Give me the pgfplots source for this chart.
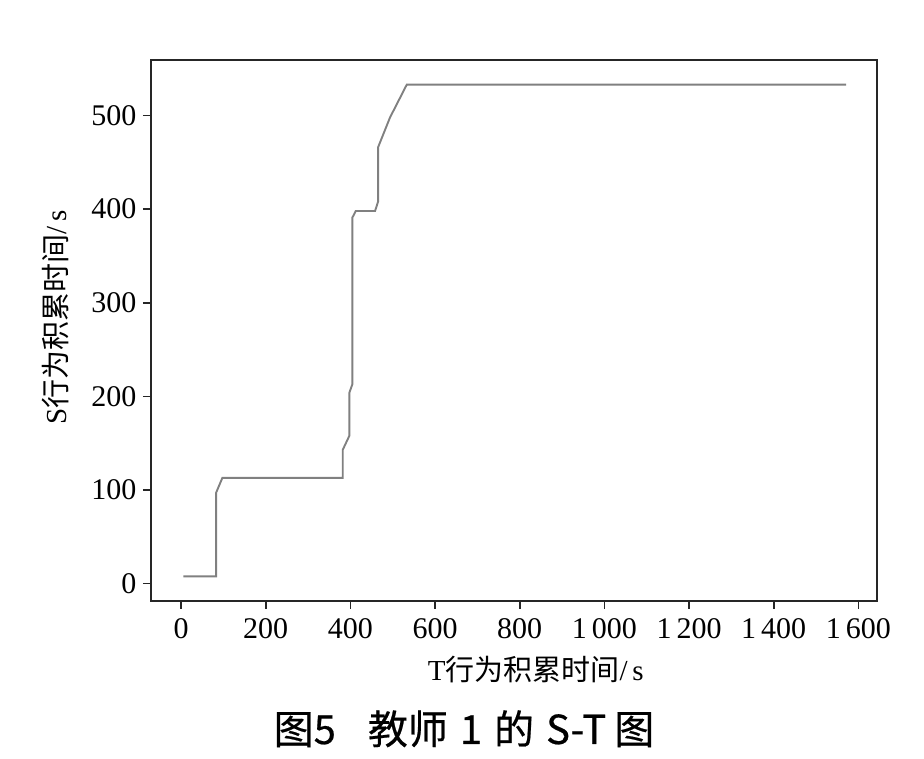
\documentclass[border=0pt]{standalone}
\usepackage{fontspec}
\setmainfont{Liberation Serif}
\newfontfamily\cjk{Noto Sans CJK SC}
\newfontfamily\cjkb[FakeBold=0.5]{Noto Sans CJK SC}
\usepackage{pgfplots}
\pgfplotsset{compat=1.18}

\begin{document}
\begin{tikzpicture}[x=1pt,y=1pt]
\useasboundingbox (0,0) rectangle (924,758);
\begin{axis}[
   at={(151pt,157pt)}, anchor=south west,
   scale only axis,
   width=726pt, height=541pt,
   xmin=-71, xmax=1644,
   ymin=-18.5, ymax=559.3,
   xtick={0,200,...,1600},
   ytick={0,100,...,500},
   tick align=outside,
   xtick pos=bottom, ytick pos=left,
   major tick length=8pt,
   axis line style={line width=1.8pt, black!85},
   every tick/.style={line width=1.6pt, black!85},
   /pgf/number format/assume math mode=true,
   /pgf/number format/1000 sep={\,},
   tick label style={font=\fontsize{30}{32}\selectfont},
   xticklabel style={yshift=-6pt},
   yticklabel style={xshift=-3pt},
   label style={font=\fontsize{29}{32}\selectfont},
   xlabel={T{\cjk 行为积累时间}/\,s},
   ylabel={S{\cjk 行为积累时间}/\,s},
   xlabel style={at={(rel axis cs:0.53,0)}, anchor=north, yshift=-52pt},
   ylabel style={at={(rel axis cs:0,0.525)}, anchor=south, yshift=79pt},
]
\addplot[color=gray, line width=1.9pt] coordinates {
(5.4,7.8) (82.7,7.8) (82.7,97) (97.6,113) (382,113) (382,143)
(397.6,158) (397.6,204) (404.7,213) (404.7,391) (412.7,398)
(458.3,398) (465.4,408) (465.4,466) (493.7,498) (533.2,533)
(1571,533)
};
\end{axis}
\node[font=\cjkb\fontsize{40}{44}\selectfont, anchor=base] at (464,14)
  {图5\hspace{32pt}教师\hspace{12pt}1\hspace{12pt}的\hspace{12pt}S-T\hspace{8pt}图};
\end{tikzpicture}
\end{document}
